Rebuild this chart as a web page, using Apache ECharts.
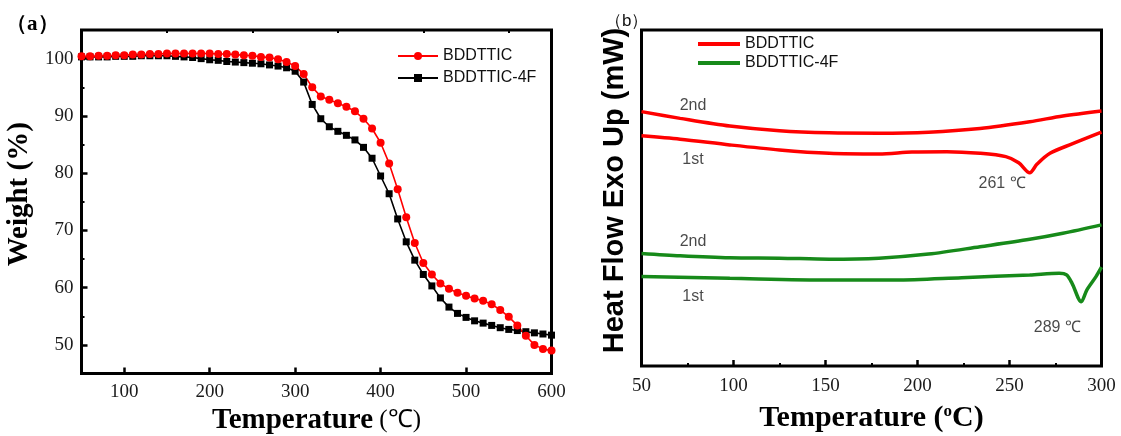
<!DOCTYPE html>
<html>
<head>
<meta charset="utf-8">
<script src="https://cdn.jsdelivr.net/npm/echarts@6/dist/echarts.min.js"></script>
<style>
  body { margin: 0; background: #fff; }
  #tga { position: absolute; left: 0; top: 0; width: 575px; height: 436px; }
  #dsc { position: absolute; left: 575px; top: 0; width: 546px; height: 436px; }
</style>
</head>
<body>
<div id="tga"></div>
<div id="dsc"></div>
<script>
// (a) TGA, weight % vs temperature
var tgaTemp = [50, 60, 70, 80, 90, 100, 110, 120, 130, 140,
    150, 160, 170, 180, 190, 200, 210, 220, 230, 240,
    250, 260, 270, 280, 290, 300, 310, 320, 330, 340,
    350, 360, 370, 380, 390, 400, 410, 420, 430, 440,
    450, 460, 470, 480, 490, 500, 510, 520, 530, 540,
    550, 560, 570, 580, 590, 600];
var bddtticTga = [100.4, 100.4, 100.5, 100.5, 100.6, 100.6, 100.7, 100.7, 100.8, 100.8,
    100.9, 100.9, 100.9, 100.9, 100.9, 100.9, 100.8, 100.8, 100.7, 100.6,
    100.5, 100.3, 100.2, 99.9, 99.4, 98.7, 97.3, 95.0, 93.4, 92.8,
    92.2, 91.6, 90.8, 89.5, 87.8, 85.3, 81.7, 77.2, 72.3, 67.8,
    64.3, 62.3, 60.7, 59.8, 59.1, 58.6, 58.1, 57.7, 57.1, 56.1,
    54.9, 53.4, 51.6, 50.0, 49.3, 49.0];
var bddttic4fTga = [100.3, 100.3, 100.3, 100.3, 100.4, 100.4, 100.4, 100.5, 100.5, 100.5,
    100.5, 100.4, 100.3, 100.2, 100.0, 99.8, 99.7, 99.5, 99.4, 99.3,
    99.2, 99.1, 98.9, 98.7, 98.4, 97.8, 95.9, 92.0, 89.5, 88.1,
    87.3, 86.6, 85.8, 84.5, 82.6, 79.5, 76.4, 72.0, 68.0, 64.8,
    62.3, 60.3, 58.2, 56.6, 55.5, 54.8, 54.2, 53.8, 53.4, 53.0,
    52.7, 52.5, 52.3, 52.1, 51.9, 51.7];
var tgaXLabels = [100, 200, 300, 400, 500, 600];
var tgaXMinor = [150, 250, 350, 450, 550];
var tgaYLabels = [50, 60, 70, 80, 90, 100];
var tgaYMinor = [55, 65, 75, 85, 95];

// (b) DSC, heat flow (arbitrary units, no scale printed)
var dscRed2T = [50, 71, 98, 125, 152, 179, 206, 234, 261, 279, 300];
var dscRed2 = [75.7, 73.7, 71.4, 70.0, 69.4, 69.3, 69.6, 70.7, 72.7, 74.4, 75.9];
var dscRed1T = [50, 71, 98, 125, 152, 179, 197, 216, 234, 248, 255, 261, 265, 272, 284, 300];
var dscRed1 = [68.5, 67.5, 65.8, 64.3, 63.3, 63.1, 63.7, 63.8, 63.3, 62.3, 60.5, 57.5, 60.1, 63.3, 66.1, 69.6];
var dscGreen2T = [50, 71, 98, 125, 152, 179, 206, 234, 261, 279, 300];
var dscGreen2 = [33.5, 32.8, 32.2, 32.1, 31.8, 32.1, 33.3, 35.5, 37.7, 39.5, 42.0];
var dscGreen1T = [50, 98, 152, 188, 224, 261, 277, 281, 284, 289, 292, 297, 300];
var dscGreen1 = [26.6, 26.1, 25.6, 25.6, 26.3, 27.1, 27.6, 27.1, 24.6, 19.1, 22.6, 26.6, 29.4];
var noteText = ['2nd', '1st', '261 ℃', '2nd', '1st', '289 ℃'];
var noteT = [78, 78, 246, 78, 78, 276];
var noteV = [77.4, 61.3, 54.2, 37.0, 20.8, 11.3];

var serif = "'Liberation Serif', 'Times New Roman', serif";
var sans = "'Liberation Sans', Arial, sans-serif";
var RED = '#ff0000', GREEN = '#178a1a';

function pairs(xs, ys) {
    return xs.map(function (x, i) { return [x, ys[i]]; });
}

var tickLabel = { fontFamily: serif, fontSize: 19, color: '#1a1a1a' };

var tga = echarts.init(document.getElementById('tga'));
var dsc = echarts.init(document.getElementById('dsc'));

tga.setOption({
    animation: false,
    grid: {
        left: 81.5, top: 30, width: 470, height: 343.5,
        outerBoundsMode: 'none',
        show: true, borderColor: '#000', borderWidth: 3
    },
    legend: {
        data: ['BDDTTIC', 'BDDTTIC-4F'],
        orient: 'vertical',
        left: 392, top: 43,
        itemWidth: 40, itemHeight: 10, itemGap: 6,
        textStyle: { fontFamily: sans, fontSize: 16, color: '#111' }
    },
    xAxis: [{
        type: 'value', min: 50, max: 600, interval: 50,
        axisLine: { show: false },
        splitLine: { show: false },
        axisTick: { inside: true, length: 6, customValues: tgaXLabels, lineStyle: { color: '#000', width: 2.5 } },
        axisLabel: Object.assign({ margin: 9, customValues: tgaXLabels }, tickLabel),
        name: '{b|Temperature}{n| (℃)}',
        nameLocation: 'middle', nameGap: 28,
        nameTextStyle: {
            rich: {
                b: { fontFamily: serif, fontWeight: 'bold', fontSize: 29, color: '#000' },
                n: { fontFamily: serif, fontSize: 25, color: '#000' }
            }
        }
    }, {
        type: 'value', min: 50, max: 600, interval: 50,
        axisLine: { show: false }, splitLine: { show: false }, axisLabel: { show: false },
        axisTick: { inside: true, length: 3, customValues: tgaXMinor, lineStyle: { color: '#000', width: 2 } }
    }],
    yAxis: [{
        type: 'value', min: 45, max: 105, interval: 5,
        axisLine: { show: false },
        splitLine: { show: false },
        axisTick: { inside: true, length: 6, customValues: tgaYLabels, lineStyle: { color: '#000', width: 2.5 } },
        axisLabel: Object.assign({ margin: 8, customValues: tgaYLabels }, tickLabel),
        name: 'Weight (%)',
        nameLocation: 'middle', nameGap: 42,
        nameTextStyle: { fontFamily: serif, fontWeight: 'bold', fontSize: 29, color: '#000', padding: [0, 0, 0, 15] }
    }, {
        type: 'value', min: 45, max: 105, interval: 5, position: 'left',
        axisLine: { show: false }, splitLine: { show: false }, axisLabel: { show: false },
        axisTick: { inside: true, length: 3, customValues: tgaYMinor, lineStyle: { color: '#000', width: 2 } }
    }],
    graphic: [{
        type: 'text', left: 6, top: 14,
        style: { text: '（a）', font: 'bold 21px ' + serif, fill: '#000' }
    }],
    series: [{
        name: 'BDDTTIC-4F', type: 'line',
        data: pairs(tgaTemp, bddttic4fTga),
        symbol: 'rect', symbolSize: 7,
        itemStyle: { color: '#000' },
        lineStyle: { color: '#000', width: 1.6 }
    }, {
        name: 'BDDTTIC', type: 'line',
        data: pairs(tgaTemp, bddtticTga),
        symbol: 'circle', symbolSize: 8,
        itemStyle: { color: RED },
        lineStyle: { color: RED, width: 1.6 }
    }]
});

dsc.setOption({
    animation: false,
    grid: {
        left: 66.5, top: 30, right: 19.5, height: 336,
        outerBoundsMode: 'none',
        show: true, borderColor: '#000', borderWidth: 3
    },
    legend: {
        data: [{ name: 'BDDTTIC', icon: 'rect' }, { name: 'BDDTTIC-4F', icon: 'rect' }],
        orient: 'vertical',
        left: 118, top: 31,
        itemWidth: 42, itemHeight: 4, itemGap: 3,
        textStyle: { fontFamily: sans, fontSize: 16, color: '#111' }
    },
    xAxis: {
        type: 'value', min: 50, max: 300, interval: 50,
        axisLine: { show: false },
        splitLine: { show: false },
        axisTick: { inside: true, length: 6, lineStyle: { color: '#000', width: 2.5 } },
        minorTick: { show: true, splitNumber: 2, length: 3, lineStyle: { color: '#000', width: 2 } },
        axisLabel: Object.assign({ margin: 11 }, tickLabel),
        name: '{b|Temperature (}{s|o}{b|C)}',
        nameLocation: 'middle', nameGap: 37,
        nameTextStyle: {
            rich: {
                b: { fontFamily: serif, fontWeight: 'bold', fontSize: 30, color: '#000' },
                s: { fontFamily: serif, fontWeight: 'bold', fontSize: 17, color: '#000', verticalAlign: 'top' }
            }
        }
    },
    yAxis: {
        type: 'value', min: 0, max: 100,
        axisLine: { show: false }, axisTick: { show: false },
        axisLabel: { show: false }, splitLine: { show: false },
        name: 'Heat Flow Exo Up (mW)',
        nameLocation: 'middle', nameGap: 12,
        nameTextStyle: { fontFamily: sans, fontWeight: 'bold', fontSize: 29, color: '#000', padding: [0, 0, 0, 15] }
    },
    graphic: [{
        type: 'text', left: 30, top: 13,
        style: { text: '（b）', font: '17px ' + sans, fill: '#111' }
    }],
    series: [{
        name: 'BDDTTIC', type: 'line', data: pairs(dscRed2T, dscRed2),
        symbol: 'none', smooth: 0.3, itemStyle: { color: RED }, lineStyle: { color: RED, width: 3.5 }
    }, {
        name: 'BDDTTIC', type: 'line', data: pairs(dscRed1T, dscRed1),
        symbol: 'none', smooth: 0.3, itemStyle: { color: RED }, lineStyle: { color: RED, width: 3.5 }
    }, {
        name: 'BDDTTIC-4F', type: 'line', data: pairs(dscGreen2T, dscGreen2),
        symbol: 'none', smooth: 0.3, itemStyle: { color: GREEN }, lineStyle: { color: GREEN, width: 3.5 }
    }, {
        name: 'BDDTTIC-4F', type: 'line', data: pairs(dscGreen1T, dscGreen1),
        symbol: 'none', smooth: 0.3, itemStyle: { color: GREEN }, lineStyle: { color: GREEN, width: 3.5 }
    }, {
        name: 'notes', type: 'scatter', symbolSize: 0,
        data: noteText.map(function (t, i) { return { name: t, value: [noteT[i], noteV[i]] }; }),
        label: {
            show: true, position: 'inside', formatter: '{b}',
            fontFamily: sans, fontSize: 16, color: '#1a1a1a'
        }
    }]
});
</script>
</body>
</html>
